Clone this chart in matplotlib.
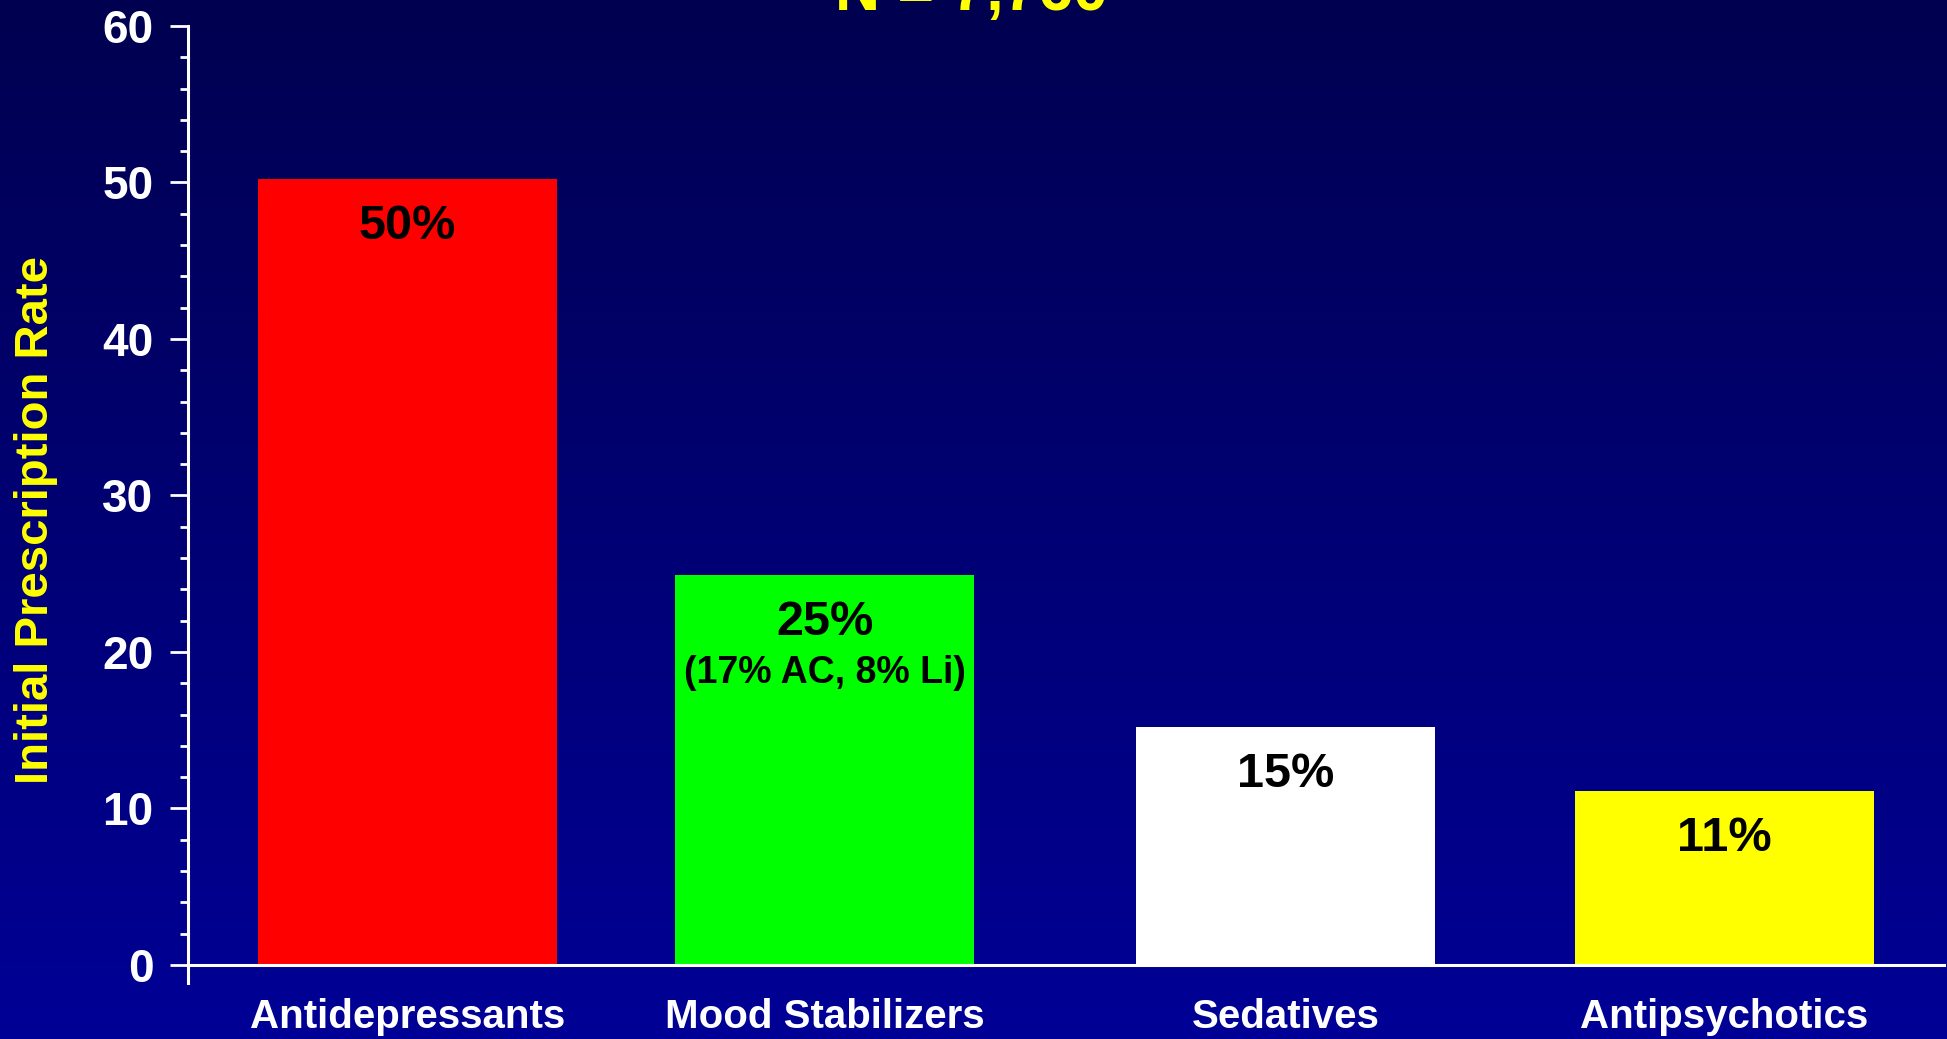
import numpy as np
import matplotlib
matplotlib.use('Agg')
import matplotlib.pyplot as plt
from matplotlib.colors import LinearSegmentedColormap

# data
categories = ['Antidepressants', 'Mood Stabilizers', 'Sedatives', 'Antipsychotics']
rates = [50.2, 24.9, 15.2, 11.1]
bar_labels = ['50%', '25%', '15%', '11%']
sub_labels = ['', '(17% AC, 8% Li)', '', '']
bar_colors = ['#ff0000', '#00ff00', '#ffffff', '#ffff00']
title = 'N = 7,760'
ylabel = 'Initial Prescription Rate'

plt.rcParams['font.family'] = ['Liberation Sans', 'DejaVu Sans']
plt.rcParams['font.weight'] = 'bold'

fig = plt.figure(figsize=(19.47, 10.39), dpi=100)

# background gradient, dark navy at top to blue at bottom
bg = fig.add_axes([0, 0, 1, 1], zorder=0)
cmap = LinearSegmentedColormap.from_list('bg', ['#000050', '#000096'])
grad = np.linspace(0, 1, 256).reshape(-1, 1)
bg.imshow(grad, aspect='auto', cmap=cmap, extent=[0, 1, 0, 1], origin='upper')
bg.axis('off')

ax = fig.add_axes([0.0966, 0.0539, 0.9019, 0.9211], zorder=1)
ax.set_facecolor('none')

xpos = [0.5, 1.45, 2.5, 3.5]
ax.bar(xpos, rates, width=0.68, color=bar_colors, zorder=2)

ax.set_xlim(0, 4)
ax.set_ylim(-1.15, 60)

for s in ['top', 'right']:
    ax.spines[s].set_visible(False)
ax.spines['bottom'].set_position(('data', 0))
ax.spines['bottom'].set_zorder(3)
for s in ['left', 'bottom']:
    ax.spines[s].set_color('white')
    ax.spines[s].set_linewidth(2.2)

ax.set_yticks(range(0, 61, 10))
ax.set_yticks(range(0, 61, 2), minor=True)
ax.tick_params(axis='y', which='major', length=13, width=2, color='white',
               labelsize=33, labelcolor='white', pad=12)
ax.tick_params(axis='y', which='minor', length=6, width=2, color='white')

ax.set_xticks(xpos)
ax.set_xticklabels(categories)
ax.tick_params(axis='x', length=0, labelsize=29, labelcolor='white', pad=24)

ax.set_ylabel(ylabel, fontsize=34, color='#ffff00', fontweight='bold')
ax.yaxis.set_label_coords(-0.074, 0.484)

for x, v, lab, sub in zip(xpos, rates, bar_labels, sub_labels):
    ax.annotate(lab, (x, v), xytext=(0, -34), textcoords='offset points',
                ha='center', va='center', fontsize=35, fontweight='bold', color='black', zorder=4)
    if sub:
        ax.annotate(sub, (x, v), xytext=(0, -70), textcoords='offset points',
                    ha='center', va='center', fontsize=27, fontweight='bold', color='black', zorder=4)

fig.text(0.499, 1 - 10 / 1039, title, ha='center', va='baseline',
         fontsize=45, fontweight='bold', color='#ffff00')

fig.savefig('out.png', dpi=100)
